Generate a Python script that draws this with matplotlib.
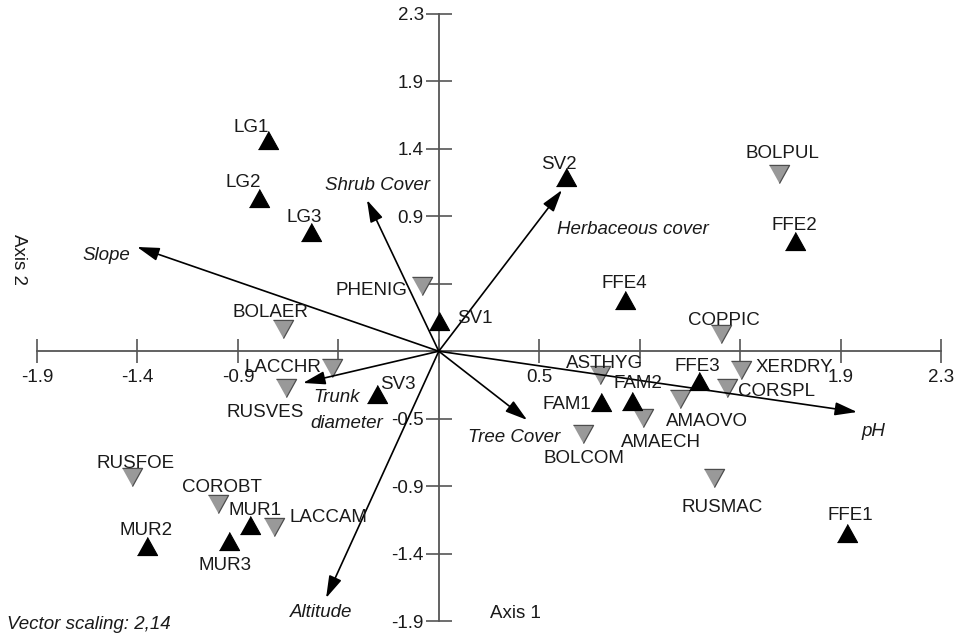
import matplotlib
matplotlib.use('Agg')
import matplotlib.pyplot as plt
import numpy as np

plt.rcParams['font.family'] = ['Liberation Sans', 'DejaVu Sans']

# ---------------- data ----------------
tick_values = np.linspace(-1.9, 2.3, 10)
x_tick_labels = ['-1.9', '-1.4', '-0.9', '', '', '0.5', '', '', '1.9', '2.3']
y_tick_labels = ['-1.9', '-1.4', '-0.9', '-0.5', '', '', '0.9', '1.4', '1.9', '2.3']

site_names = ['LG1', 'LG2', 'LG3', 'SV2', 'FFE2', 'FFE4', 'SV1', 'SV3',
              'FFE3', 'FAM1', 'FAM2', 'FFE1', 'MUR1', 'MUR2', 'MUR3']
site_x = [-0.827, -0.869, -0.627, 0.558, 1.622, 0.832, -0.032, -0.320,
          1.176, 0.720, 0.864, 1.863, -0.910, -1.389, -1.008]
site_y = [1.428, 1.027, 0.792, 1.172, 0.729, 0.321, 0.176, -0.329,
          -0.239, -0.385, -0.378, -1.291, -1.236, -1.381, -1.347]

species_names = ['BOLPUL', 'PHENIG', 'BOLAER', 'COPPIC', 'LACCHR', 'RUSVES',
                 'ASTHYG', 'XERDRY', 'CORSPL', 'AMAOVO', 'AMAECH', 'BOLCOM',
                 'RUSMAC', 'RUSFOE', 'COROBT', 'LACCAM']
species_x = [1.547, -0.111, -0.757, 1.278, -0.529, -0.743, 0.716, 1.371,
             1.306, 1.087, 0.915, 0.637, 1.245, -1.459, -1.059, -0.799]
species_y = [1.193, 0.418, 0.120, 0.086, -0.149, -0.288, -0.198, -0.163,
             -0.288, -0.364, -0.495, -0.606, -0.911, -0.904, -1.091, -1.250]

vector_names = ['Slope', 'Shrub Cover', 'Herbaceous cover', 'pH',
                'Tree Cover', 'Altitude', 'Trunk diameter']
vector_x = [-1.435, -0.367, 0.539, 1.910, 0.377, -0.557, -0.664]
vector_y = [0.688, 1.013, 1.082, -0.454, -0.509, -1.741, -0.253]

vector_origin = tick_values[4]

# label offsets (pixels; +x right, +y down) of label centre from the mark
site_label_off = {
    'LG1': (-17, -14), 'LG2': (-16, -17), 'LG3': (-7, -16), 'SV2': (-7, -14),
    'FFE2': (-1, -17), 'FFE4': (-1, -18), 'SV1': (36, -4), 'SV3': (21, -11),
    'FFE3': (-2, -16), 'FAM1': (-34, 1), 'FAM2': (6, -19), 'FFE1': (3, -19),
    'MUR1': (5, -16), 'MUR2': (-1, -17), 'MUR3': (-4, 23)}
species_label_off = {
    'BOLPUL': (4, -22), 'PHENIG': (-51, 3), 'BOLAER': (-13, -18),
    'COPPIC': (3, -15), 'LACCHR': (-49, -2), 'RUSVES': (-21, 23),
    'ASTHYG': (4, -13), 'XERDRY': (53, -4), 'CORSPL': (49, 2),
    'AMAOVO': (27, 21), 'AMAECH': (18, 23), 'BOLCOM': (1, 23),
    'RUSMAC': (8, 28), 'RUSFOE': (4, -15), 'COROBT': (4, -18),
    'LACCAM': (54, -11)}
vector_label_off = {
    'Slope': (-31, 7), 'Shrub Cover': (11, -16), 'Herbaceous cover': (71, 38),
    'pH': (16, 18), 'Tree Cover': (-13, 16), 'Altitude': (-5, 13)}

# ---------------- figure ----------------
W, H = 956, 636
fig = plt.figure(figsize=(W / 100, H / 100), dpi=100)
ax = fig.add_axes([37 / W, 15 / H, 904 / W, 607 / H])
ax.set_xlim(-1.9, 2.3)
ax.set_ylim(-1.9, 2.3)

axis_col = '#555555'
for s in ['top', 'right']:
    ax.spines[s].set_visible(False)
for s in ['left', 'bottom']:
    ax.spines[s].set_position(('data', vector_origin))
    ax.spines[s].set_color(axis_col)
    ax.spines[s].set_linewidth(1.3)
    ax.spines[s].set_zorder(1)

ax.set_xticks(tick_values)
ax.set_xticklabels(x_tick_labels)
ax.set_yticks(tick_values)
ax.set_yticklabels(y_tick_labels)
ax.tick_params(axis='x', direction='inout', length=17.5, width=1.2,
               color=axis_col, pad=4, labelsize=13.5, labelcolor='#1a1a1a')
ax.tick_params(axis='y', direction='inout', length=18.5, width=1.2,
               color=axis_col, pad=1.5, labelsize=13.5, labelcolor='#1a1a1a')

FS = 13.5
PX = 0.72  # points per pixel
SHIFT = 1.75  # px, visible caps centre vs layout centre

tri_up = [(-1, -0.9), (1, -0.9), (0, 0.9)]
tri_dn = [(-1, 0.9), (1, 0.9), (0, -0.9)]

ax.plot(species_x, species_y, linestyle='none', marker=tri_dn, markersize=14.5,
        markerfacecolor='#999999', markeredgecolor='#4d4d4d',
        markeredgewidth=0.9, zorder=3, clip_on=False)
ax.plot(site_x, site_y, linestyle='none', marker=tri_up, markersize=14.5,
        markerfacecolor='black', markeredgecolor='black',
        markeredgewidth=0.8, zorder=3, clip_on=False)


def label(txt, x, y, off, ha='center', style='normal'):
    dx, dy = off
    ax.annotate(txt, xy=(x, y), xytext=(dx * PX, -(dy + SHIFT) * PX),
                textcoords='offset points', ha=ha, va='center',
                fontsize=FS, color='#1a1a1a', style=style, zorder=5,
                annotation_clip=False)


for n, x, y in zip(site_names, site_x, site_y):
    label(n, x, y, site_label_off[n])
for n, x, y in zip(species_names, species_x, species_y):
    label(n, x, y, species_label_off[n])

for n, x, y in zip(vector_names, vector_x, vector_y):
    ax.annotate('', xy=(x, y), xytext=(vector_origin, vector_origin),
                arrowprops=dict(arrowstyle='-|>,head_length=0.9,head_width=0.27',
                                mutation_scale=15, color='black', lw=1.2,
                                shrinkA=0, shrinkB=0),
                zorder=4, annotation_clip=False)
    if n == 'Trunk diameter':
        label('Trunk', x, y, (10, 13), ha='left', style='italic')
        label('diameter', x, y, (7, 39), ha='left', style='italic')
    else:
        label(n, x, y, vector_label_off[n], style='italic')

fig.text(515 / W, 1 - 614 / H, 'Axis 1', ha='center', va='center',
         fontsize=FS, color='#1a1a1a')
fig.text(18 / W, 1 - 259 / H, 'Axis 2', ha='center', va='center',
         rotation=270, fontsize=FS, color='#1a1a1a')
fig.text(7 / W, 1 - 629 / H, 'Vector scaling: 2,14', ha='left', va='baseline',
         fontsize=FS, style='italic', color='#1a1a1a')

fig.savefig('out.png', dpi=100)
